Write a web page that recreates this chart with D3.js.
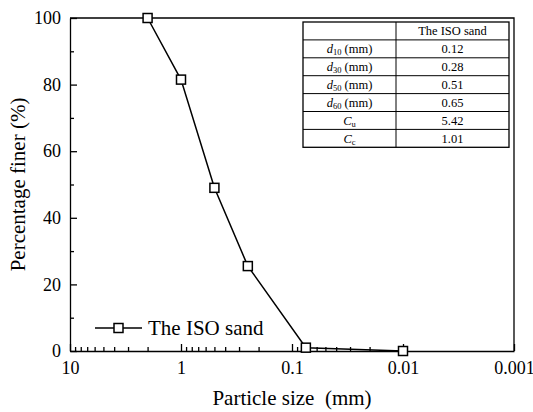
<!DOCTYPE html>
<html lang="en">
<head>
  <meta charset="UTF-8">
  <title>Particle size distribution</title>
  <script src="https://d3js.org/d3.v7.min.js"></script>
  <style>
    body { margin: 0; background: #fff; }
    .axis path, .axis line { stroke: #000; stroke-width: 1.3; }
  </style>
</head>
<body>
  <svg width="533" height="412"></svg>
  <script>
    // particle size (mm) and percentage finer (%)
    const sizes = [2, 1, 0.5, 0.25, 0.075, 0.01];
    const finer = [100, 81.5, 49, 25.5, 1, 0];
    const seriesName = "The ISO sand";

    const xMajor = [10, 1, 0.1, 0.01, 0.001];
    const yMajor = [0, 20, 40, 60, 80, 100];
    const yMinor = [10, 30, 50, 70, 90];

    const tableLabels = ["d10 (mm)", "d30 (mm)", "d50 (mm)", "d60 (mm)", "Cu", "Cc"];
    const tableValues = ["0.12", "0.28", "0.51", "0.65", "5.42", "1.01"];

    const svg = d3.select("svg");
    const mL = 70, mR = 514, mT = 18, mB = 351;

    const x = d3.scaleLog().domain([10, 0.001]).range([mL, mR]);
    const y = d3.scaleLinear().domain([0, 100]).range([mB, mT]);

    const xMinor = [];
    for (let e = 0; e > -3; e--) {
      for (let k = 2; k <= 9; k++) xMinor.push(k * Math.pow(10, e));
    }

    // frame
    svg.append("path")
      .attr("d", `M${mL},${mT}H${mR}V${mB}`)
      .attr("fill", "none").attr("stroke", "#000").attr("stroke-width", 1.3);

    // x axis
    svg.append("g").attr("class", "axis")
      .attr("transform", `translate(0,${mB})`)
      .call(d3.axisBottom(x).tickValues(xMinor).tickSize(-4).tickFormat(""))
      .call(g => g.select(".domain").remove());
    svg.append("g").attr("class", "axis")
      .attr("transform", `translate(0,${mB})`)
      .call(d3.axisBottom(x).tickValues(xMajor).tickSize(-7).tickSizeOuter(0)
        .tickPadding(10).tickFormat(d => String(d)));

    // y axis
    svg.append("g").attr("class", "axis")
      .attr("transform", `translate(${mL},0)`)
      .call(d3.axisLeft(y).tickValues(yMinor).tickSize(-4).tickFormat(""))
      .call(g => g.select(".domain").remove());
    svg.append("g").attr("class", "axis")
      .attr("transform", `translate(${mL},0)`)
      .call(d3.axisLeft(y).tickValues(yMajor).tickSize(-7).tickSizeOuter(0)
        .tickPadding(9).tickFormat(d3.format("d")));

    svg.selectAll(".axis").attr("font-family", null).attr("font-size", null);
    svg.selectAll(".axis text").style("font-size", "18px").attr("fill", "#000");

    // axis titles
    svg.append("text")
      .attr("x", (mL + mR) / 2).attr("y", 405)
      .attr("text-anchor", "middle").style("font-size", "21px")
      .text("Particle size\u00a0\u00a0(mm)");
    svg.append("text")
      .attr("transform", `translate(25,${(mT + mB) / 2}) rotate(-90)`)
      .attr("text-anchor", "middle").style("font-size", "21px")
      .text("Percentage finer (%)");

    // series
    const data = sizes.map((s, i) => ({ s, v: finer[i] }));
    svg.append("path")
      .datum(data)
      .attr("fill", "none").attr("stroke", "#000").attr("stroke-width", 1.5)
      .attr("d", d3.line().x(d => x(d.s)).y(d => y(d.v)));
    svg.selectAll(".pt")
      .data(data)
      .enter().append("rect")
      .attr("class", "pt")
      .attr("x", d => x(d.s) - 4.5).attr("y", d => y(d.v) - 4.5)
      .attr("width", 9).attr("height", 9)
      .attr("fill", "#fff").attr("stroke", "#000").attr("stroke-width", 1.5);

    // legend
    const lg = svg.append("g").attr("transform", "translate(95,328)");
    lg.append("line").attr("x1", 0).attr("x2", 47)
      .attr("stroke", "#000").attr("stroke-width", 1.5);
    lg.append("rect").attr("x", 19).attr("y", -4.5).attr("width", 9).attr("height", 9)
      .attr("fill", "#fff").attr("stroke", "#000").attr("stroke-width", 1.5);
    lg.append("text").attr("x", 53).attr("y", 7).style("font-size", "21px").text(seriesName);

    // parameter table
    const tx = 303, tw = 206, cx = 396, ty = 22, rh = 17.9;
    const nRows = tableLabels.length + 1;
    const tb = svg.append("g");
    tb.append("rect").attr("x", tx).attr("y", ty).attr("width", tw).attr("height", rh * nRows)
      .attr("fill", "#fff").attr("stroke", "#000").attr("stroke-width", 1.3);
    tb.append("line").attr("x1", cx).attr("x2", cx).attr("y1", ty).attr("y2", ty + rh * nRows)
      .attr("stroke", "#000").attr("stroke-width", 1);
    d3.range(1, nRows).forEach(i => {
      tb.append("line").attr("x1", tx).attr("x2", tx + tw)
        .attr("y1", ty + rh * i).attr("y2", ty + rh * i)
        .attr("stroke", "#000").attr("stroke-width", 1);
    });
    tb.append("text").attr("x", (cx + tx + tw) / 2).attr("y", ty + rh * 0.5 + 4.5)
      .attr("text-anchor", "middle").style("font-size", "12.5px").text(seriesName);

    tableLabels.forEach((lab, i) => {
      const yy = ty + rh * (i + 1.5) + 4.5;
      const t = tb.append("text").attr("x", (tx + cx) / 2).attr("y", yy)
        .attr("text-anchor", "middle").style("font-size", "12.5px");
      const m = lab.match(/^([dC])(\w+)(.*)$/);
      t.append("tspan").style("font-style", "italic").text(m[1]);
      t.append("tspan").style("font-size", "8.5px").attr("dy", 2).text(m[2]);
      if (m[3]) t.append("tspan").attr("dy", -2).text(m[3]);
      tb.append("text").attr("x", (cx + tx + tw) / 2).attr("y", yy)
        .attr("text-anchor", "middle").style("font-size", "12.5px").text(tableValues[i]);
    });

    svg.selectAll("text").style("font-family", "Liberation Serif");
  </script>
</body>
</html>
